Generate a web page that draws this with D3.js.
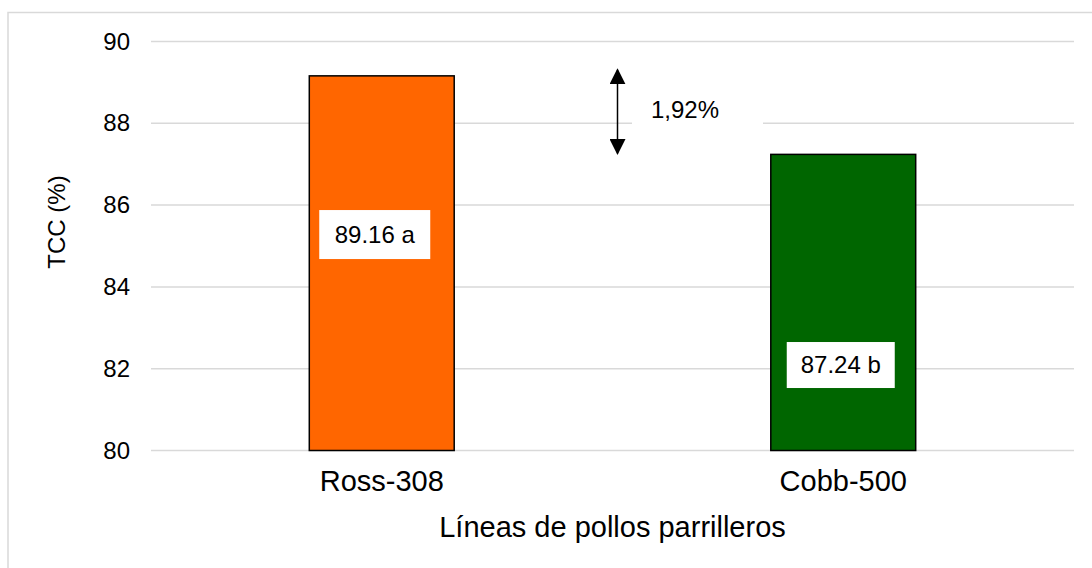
<!DOCTYPE html>
<html>
<head>
<meta charset="utf-8">
<script src="https://cdn.jsdelivr.net/npm/d3@7"></script>
<style>
  body { margin: 0; background: #fff; }
  text { font-family: "Liberation Sans", Arial, sans-serif; fill: #000; }
</style>
</head>
<body>
<div id="chart"></div>
<script>
// data
var categories = ["Ross-308", "Cobb-500"];
var values = [89.16, 87.24];
var labels = ["89.16 a", "87.24 b"];
var barColors = ["#FF6600", "#006600"];
var yTicks = [80, 82, 84, 86, 88, 90];
var diffLabel = "1,92%";

var svgWidth = 1092;
var svgHeight = 568;

var margin = { top: 41.5, right: 18, bottom: 117.5, left: 151 };
var chartWidth = svgWidth - margin.left - margin.right;
var chartHeight = svgHeight - margin.top - margin.bottom;

var svg = d3.select("#chart")
  .append("svg")
  .attr("width", svgWidth)
  .attr("height", svgHeight);

// outer border
svg.append("rect")
  .attr("x", 8)
  .attr("y", 12.5)
  .attr("width", 1200)
  .attr("height", 700)
  .attr("fill", "none")
  .attr("stroke", "#d9d9d9")
  .attr("stroke-width", 1.5);

var chartGroup = svg.append("g")
  .attr("transform", `translate(${margin.left}, ${margin.top})`);

var xScale = d3.scaleBand()
  .domain(categories)
  .range([0, chartWidth])
  .padding(0);

var yScale = d3.scaleLinear()
  .domain([80, 90])
  .range([chartHeight, 0]);

var barWidth = xScale.bandwidth() * 0.314;

// gridlines
chartGroup.append("g")
  .selectAll("line")
  .data(yTicks)
  .enter()
  .append("line")
  .attr("x1", 0)
  .attr("x2", chartWidth)
  .attr("y1", d => yScale(d))
  .attr("y2", d => yScale(d))
  .attr("stroke", "#d9d9d9")
  .attr("stroke-width", 1.5);

// y axis labels
var leftAxis = d3.axisLeft(yScale).tickValues(yTicks).tickSize(0).tickPadding(21);
var yAxisG = chartGroup.append("g").call(leftAxis);
yAxisG.select(".domain").remove();
yAxisG.selectAll("text")
  .attr("font-size", "24px")
  .style("font-family", "'Liberation Sans', Arial, sans-serif")
  .attr("fill", "#000");

// bars
chartGroup.selectAll("rect.bar")
  .data(values)
  .enter()
  .append("rect")
  .attr("class", "bar")
  .attr("x", (d, i) => xScale(categories[i]) + xScale.bandwidth() / 2 - barWidth / 2)
  .attr("y", d => yScale(d))
  .attr("width", barWidth)
  .attr("height", d => chartHeight - yScale(d))
  .attr("fill", (d, i) => barColors[i])
  .attr("stroke", "#000")
  .attr("stroke-width", 1.5);

// category labels
var bottomAxis = d3.axisBottom(xScale).tickSize(0).tickPadding(20);
var xAxisG = chartGroup.append("g")
  .attr("transform", `translate(0, ${chartHeight})`)
  .call(bottomAxis);
xAxisG.select(".domain").remove();
xAxisG.selectAll("text")
  .attr("font-size", "29px")
  .style("font-family", "'Liberation Sans', Arial, sans-serif")
  .attr("fill", "#000");

// data labels (white boxes), placed inside the bars
var labelPos = [
  { dx: -7, v: 85.28, w: 111, h: 49 },
  { dx: -2.5, v: 82.09, w: 108, h: 46 }
];
var labelGroup = chartGroup.selectAll("g.dlabel")
  .data(values)
  .enter()
  .append("g")
  .attr("class", "dlabel")
  .attr("transform", (d, i) => `translate(${xScale(categories[i]) + xScale.bandwidth() / 2 + labelPos[i].dx}, ${yScale(labelPos[i].v)})`);

labelGroup.append("rect")
  .attr("x", (d, i) => -labelPos[i].w / 2)
  .attr("y", (d, i) => -labelPos[i].h / 2)
  .attr("width", (d, i) => labelPos[i].w)
  .attr("height", (d, i) => labelPos[i].h)
  .attr("fill", "#fff");

labelGroup.append("text")
  .attr("text-anchor", "middle")
  .attr("dy", "0.35em")
  .attr("font-size", "24px")
  .text((d, i) => labels[i]);

// difference arrow
var arrowX = 617.5 - margin.left;
var defs = svg.append("defs");
defs.append("marker")
  .attr("id", "arrowhead")
  .attr("viewBox", "0 0 10 10")
  .attr("refX", 9)
  .attr("refY", 5)
  .attr("markerWidth", 16)
  .attr("markerHeight", 16)
  .attr("markerUnits", "userSpaceOnUse")
  .attr("orient", "auto-start-reverse")
  .append("path")
  .attr("d", "M0,0 L10,5 L0,10 Z")
  .attr("fill", "#000");

chartGroup.append("line")
  .attr("x1", arrowX)
  .attr("x2", arrowX)
  .attr("y1", yScale(values[0]) - 6)
  .attr("y2", yScale(values[1]) - 1)
  .attr("stroke", "#000")
  .attr("stroke-width", 1.5)
  .attr("marker-start", "url(#arrowhead)")
  .attr("marker-end", "url(#arrowhead)");

// difference label with white box
var diffY = yScale((values[0] + values[1]) / 2) + 0.5;
chartGroup.append("rect")
  .attr("x", 632 - margin.left)
  .attr("y", diffY - 18)
  .attr("width", 131)
  .attr("height", 36)
  .attr("fill", "#fff");

chartGroup.append("text")
  .attr("x", 651 - margin.left)
  .attr("y", diffY - 6)
  .attr("dy", "0.35em")
  .attr("font-size", "24px")
  .text(diffLabel);

// axis titles
svg.append("text")
  .attr("transform", "rotate(-90)")
  .attr("x", -222)
  .attr("y", 65)
  .attr("text-anchor", "middle")
  .attr("font-size", "24px")
  .text("TCC (%)");

svg.append("text")
  .attr("x", margin.left + chartWidth / 2)
  .attr("y", 537)
  .attr("text-anchor", "middle")
  .attr("font-size", "29px")
  .text("Líneas de pollos parrilleros");
</script>
</body>
</html>
